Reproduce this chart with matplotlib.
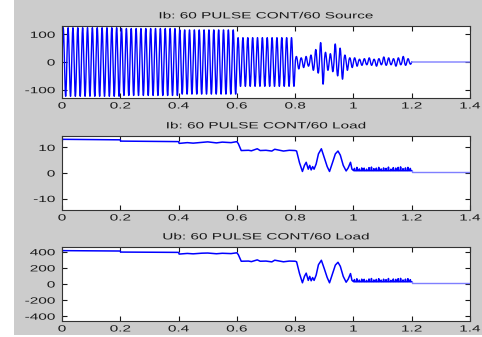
import numpy as np
import matplotlib
matplotlib.use('Agg')
import matplotlib.pyplot as plt
from matplotlib.patches import Rectangle
from matplotlib.patheffects import AbstractPathEffect
from matplotlib.transforms import Affine2D

plt.rcParams['font.family'] = ['Liberation Sans', 'DejaVu Sans']

# --- data ---
titles = ['Ib: 60 PULSE CONT/60 Source', 'Ib: 60 PULSE CONT/60 Load', 'Ub: 60 PULSE CONT/60 Load']
x_ticks = [0, 0.2, 0.4, 0.6, 0.8, 1.0, 1.2, 1.4]
x_tick_labels = ['0', '0.2', '0.4', '0.6', '0.8', '1', '1.2', '1.4']

# source current: 60 Hz carrier, peak per 0.2 s block before the fault
freq = 60
src_block_start = [0.0, 0.2, 0.4, 0.6]
src_block_peak = [124, 121, 116, 88]
# half-cycle peaks (magnitude) from 0.8 s to 1.2 s
src_fault_peaks = [20, 25, 15, 20, 20, 15,
                   25, 30, 45, 40, 70, 80,
                   35, 30, 30, 35, 65, 50,
                   50, 62, 25, 30, 15, 20,
                   15, 15, 10, 12, 12, 10,
                   15, 12, 10, 15, 12, 10,
                   18, 12, 15, 10, 12, 15,
                   15, 10, 20, 12, 12, 8]
src_y_ticks = [-100, 0, 100]
src_y_labels = ['-100', '0', '100']

# load current / voltage breakpoints
t_load = [0, 0.001, 0.2, 0.201, 0.4, 0.402, 0.43, 0.45, 0.48, 0.5, 0.53, 0.55, 0.58, 0.6,
          0.605, 0.615, 0.64, 0.65, 0.67, 0.68, 0.70, 0.72, 0.73, 0.76, 0.78, 0.8,
          0.805, 0.815, 0.825, 0.832, 0.838, 0.845, 0.85, 0.855, 0.86, 0.865, 0.872,
          0.88, 0.89, 0.9, 0.91, 0.918, 0.928, 0.938, 0.947, 0.955, 0.965, 0.975,
          0.982, 0.99, 0.995, 1.0]
ib_load = [0, 13.2, 13.0, 12.5, 12.3, 11.6, 11.9, 11.7, 12.0, 12.2, 11.8, 12.1, 11.9, 12.3,
           11.5, 8.8, 8.9, 8.7, 9.5, 8.8, 8.9, 8.6, 9.3, 8.6, 8.9, 8.8,
           8.6, 4.0, 0.6, 3.0, 4.2, 1.5, 3.0, 1.2, 2.5, 1.5, 3.5,
           7.5, 9.5, 6.0, 2.5, 0.6, 4.0, 7.5, 8.6, 7.0, 3.0, 0.8,
           2.0, 4.2, 1.5, 1.0]
ub_load = [0, 415, 410, 397, 393, 372, 380, 375, 383, 385, 376, 382, 378, 388,
           365, 283, 285, 278, 300, 283, 285, 275, 296, 276, 285, 283,
           276, 130, 15, 95, 135, 45, 95, 40, 80, 45, 110,
           240, 295, 190, 80, 15, 125, 235, 270, 220, 95, 22,
           60, 130, 45, 30]
# small spikes between 1.0 s and 1.2 s (one per half-cycle)
ib_spikes = [1.8, 2.2, 1.6, 2.0, 1.9, 1.5, 2.1, 2.3, 1.7, 1.9, 2.2, 1.6,
             2.0, 1.8, 2.3, 1.5, 2.1, 1.9, 2.2, 2.4, 1.7, 2.0, 2.2, 1.8]
ub_spikes = [55, 65, 48, 60, 58, 45, 62, 68, 50, 57, 66, 48,
             60, 54, 68, 45, 62, 57, 66, 70, 50, 60, 66, 54]
ib_base, ub_base = 0.9, 28
ib_tail, ub_tail = 0.5, 12

# --- build series ---
t = np.arange(0, 1.2, 1 / 12000)
src = np.zeros_like(t)
for k, t0 in enumerate(src_block_start):
    m = (t >= t0) & (t < t0 + 0.2)
    src[m] = src_block_peak[k] * np.sin(2 * np.pi * freq * t[m])
m = t >= 0.8
idx = np.minimum(((t[m] - 0.8) * 2 * freq).astype(int), len(src_fault_peaks) - 1)
src[m] = np.array(src_fault_peaks)[idx] * np.sin(2 * np.pi * freq * t[m])


def with_spikes(tb, vb, spikes, base):
    tt, vv = list(tb), list(vb)
    step = 0.2 / len(spikes)
    for k, h in enumerate(spikes):
        ts = 1.0 + k * step
        tt += [ts + 0.002, ts + 0.0035, ts + 0.005]
        vv += [base, h, base]
    tt += [1.2]
    vv += [base]
    return tt, vv


t_ib, v_ib = with_spikes(t_load, ib_load, ib_spikes, ib_base)
t_ub, v_ub = with_spikes(t_load, ub_load, ub_spikes, ub_base)


class Stretch(AbstractPathEffect):
    """widen glyphs horizontally around an anchor (0 left, .5 centre, 1 right)"""
    def __init__(self, sx, anchor):
        super().__init__()
        self.sx, self.anchor = sx, anchor

    def draw_path(self, renderer, gc, tpath, affine, rgbFace=None):
        ext = tpath.get_extents()
        a = ext.x0 + self.anchor * ext.width
        tr = Affine2D().translate(-a, 0).scale(self.sx, 1).translate(a, 0) + affine
        renderer.draw_path(gc, tpath, tr, rgbFace)


SX = 1.7
FS = 6.5
TXT = '#1a1a1a'

# --- figure ---
W, H = 482, 337
fig = plt.figure(figsize=(W / 100, H / 100), dpi=100, facecolor='white')
fig.patches.append(Rectangle((14 / W, 2 / H), 1 - 14 / W, 1 - 2 / H, transform=fig.transFigure,
                             facecolor='#cccccc', edgecolor='none', zorder=-10))

left, width = 62 / W, 408 / W
boxes = [(26, 98), (136, 210), (247, 321)]
series = [(t, src), (t_ib, v_ib), (t_ub, v_ub)]
tails = [0, ib_tail, ub_tail]
ylims = [(-130, 130), (-14.5, 14.5), (-460, 460)]
yticks = [src_y_ticks, [-10, 0, 10], [-400, -200, 0, 200, 400]]
ylabels = [src_y_labels, ['-10', '0', '10'], ['-400', '-200', '0', '200', '400']]

for i, (top, bot) in enumerate(boxes):
    ax = fig.add_axes([left, 1 - bot / H, width, (bot - top) / H])
    ax.set_facecolor('white')
    x, y = series[i]
    ax.plot(x, y, color='#0000ff', linewidth=1.1 if i else 1.0)
    ax.plot([x[-1], 1.2, 1.4], [y[-1], tails[i], tails[i]], color='#7f7fff', linewidth=1.0)
    ax.set_xlim(0, 1.4)
    ax.set_ylim(*ylims[i])
    ax.set_xticks(x_ticks, x_tick_labels, path_effects=[Stretch(SX, 0.5)])
    ax.set_yticks(yticks[i], ylabels[i], path_effects=[Stretch(SX, 1.0)])
    ax.tick_params(direction='in', length=3.5, width=0.8, top=True, right=True,
                   labelsize=FS, colors=TXT)
    ax.tick_params(axis='x', pad=2.5)
    ax.tick_params(axis='y', pad=5)
    for s in ax.spines.values():
        s.set_color('#333333')
        s.set_linewidth(0.8)
    ax.set_title(titles[i], fontsize=FS, color=TXT, pad=5.5, path_effects=[Stretch(SX, 0.5)])

fig.savefig('out.png', dpi=100, facecolor='white')
